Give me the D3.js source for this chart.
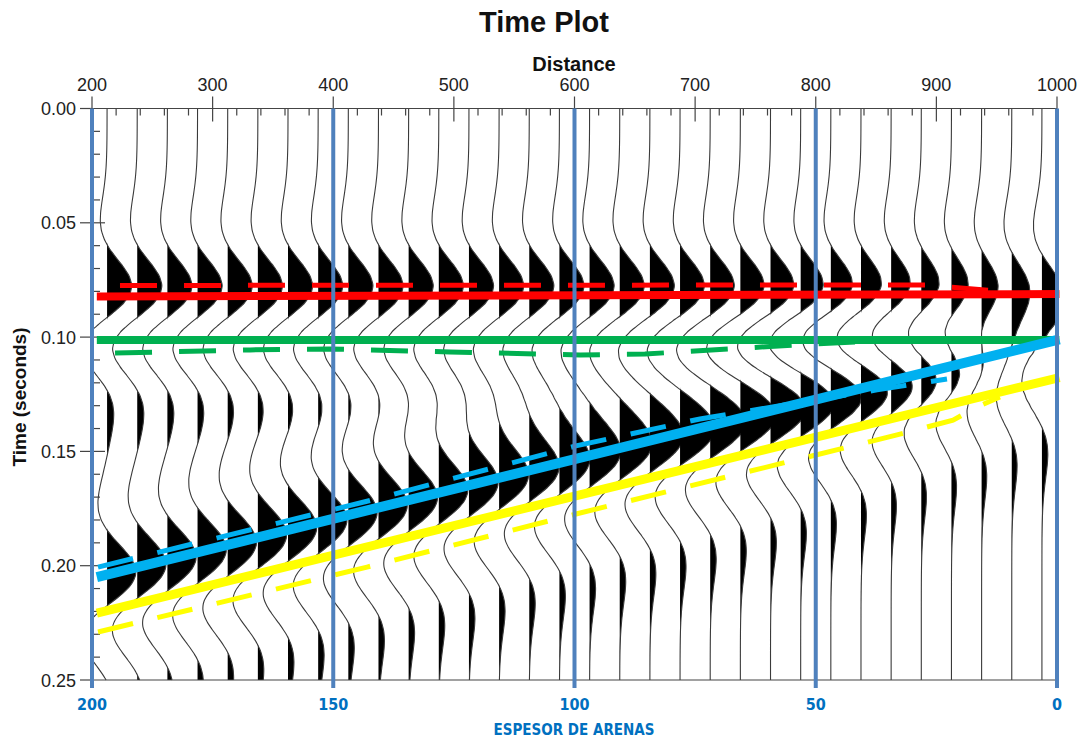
<!DOCTYPE html>
<html><head><meta charset="utf-8">
<script src="https://cdn.jsdelivr.net/npm/d3@7"></script>
<style>body{margin:0;background:#fff}svg{display:block}</style>
</head><body>
<svg id="chart" width="1083" height="738"></svg>
<script>
// ---------- data ----------
const traceDistance = [212.5,237.5,262.5,287.5,312.5,337.5,362.5,387.5,412.5,437.5,462.5,487.5,512.5,537.5,562.5,587.5,
  612.5,637.5,662.5,687.5,712.5,737.5,762.5,787.5,812.5,837.5,862.5,887.5,912.5,937.5,962.5,987.5];
// reflector times (s) read per trace
const topTimes = [0.0815,0.0815,0.0815,0.0815,0.0815,0.0815,0.0815,0.0815,0.0815,0.0815,0.0815,0.0815,0.0815,0.0815,0.0815,0.0815,
  0.0815,0.0815,0.0815,0.0815,0.0815,0.0815,0.0815,0.0815,0.0815,0.0815,0.0815,0.0815,0.0815,0.0815,0.0815,0.0815];
const midTimes = [0.1013,0.1013,0.1013,0.1013,0.1013,0.1013,0.1013,0.1013,0.1013,0.1013,0.1013,0.1013,0.1013,0.1013,0.1013,0.1013,
  0.1013,0.1013,0.1013,0.1013,0.1013,0.1013,0.1013,0.1013,0.1013,0.1013,0.1013,0.1013,0.1013,0.1013,0.1013,0.1013];
const baseTimes = [0.2039,0.2006,0.1974,0.1941,0.1909,0.1876,0.1844,0.1811,0.1778,0.1746,0.1713,0.1681,0.1648,0.1616,0.1583,0.1550,
  0.1518,0.1485,0.1453,0.1420,0.1388,0.1355,0.1322,0.1290,0.1257,0.1225,0.1192,0.1160,0.1127,0.1094,0.1062,0.1029];
const lowerTimes = [0.2296,0.2264,0.2231,0.2199,0.2167,0.2135,0.2102,0.2070,0.2038,0.2006,0.1973,0.1941,0.1909,0.1877,0.1844,0.1812,
  0.1780,0.1748,0.1715,0.1683,0.1651,0.1614,0.1576,0.1534,0.1492,0.1450,0.1407,0.1365,0.1323,0.1281,0.1238,0.1196];
const reflectivity = [1.0, -1.0, 1.15, -0.8];
// wavelet samples, lag -0.080 .. 0.080 s, step 0.004 s
const waveletStart = -0.080, waveletStep = 0.004;
const wavelet = [-0.0005,-0.0012,-0.0029,-0.0064,-0.0137,-0.0272,-0.0506,-0.0881,-0.1433,-0.2161,-0.3007,-0.3825,-0.4378,-0.4370,-0.3526,-0.1716,0.0953,0.4087,0.7069,0.9217,
  1.0000,0.9217,0.7069,0.4087,0.0953,-0.1716,-0.3526,-0.4370,-0.4378,-0.3825,-0.3007,-0.2161,-0.1433,-0.0881,-0.0506,-0.0272,-0.0137,-0.0064,-0.0029,-0.0012,-0.0005];

const distanceTicks = [200,300,400,500,600,700,800,900,1000];
const timeTicks = [0.00,0.05,0.10,0.15,0.20,0.25];
const thicknessTicks = [200,150,100,50,0];

// interpretation lines: [distance, time]
const redSolid = [[204,0.0822],[1002,0.0812]];
const greenSolid = [[204,0.1013],[1002,0.1013]];
const blueSolid = [[204,0.2050],[1002,0.1010]];
const yellowSolid = [[204,0.2207],[1002,0.1177]];
const redDashed = [[223.2,0.0774],[890.6,0.0772],[942.8,0.0795]];
const greenDashed = [[219.1,0.1070],[331.0,0.1056],[397.3,0.1052],[496.8,0.1065],[604.6,0.1078],[658.4,0.1074],[762.1,0.1041],[832.5,0.1021]];
const blueDashed = [[205.0,0.2006],[428.8,0.1717],[601.2,0.1476],[704.0,0.1358],[799.4,0.1275],[850.8,0.1231],[875.6,0.1210],[908.8,0.1183]];
const yellowDashed = [[205.0,0.2290],[428.0,0.2006],[601.2,0.1774],[867.4,0.1428],[913.8,0.1363],[933.7,0.1306],[952.7,0.1262]];

// ---------- drawing ----------
const svg = d3.select('#chart');
const x = d3.scaleLinear().domain([200,1000]).range([92,1057]);
const y = d3.scaleLinear().domain([0,0.25]).range([108.5,680]);
const xT = d3.scaleLinear().domain([200,0]).range([92,1057]);
const gain = 16.3; // amplitude -> distance units

svg.append('defs').append('clipPath').attr('id','plotclip').append('rect')
  .attr('x',x(200)).attr('y',y(0)-1).attr('width',x(1000)-x(200)).attr('height',y(0.25)-y(0)+2);

function w(tau){
  const p = (tau - waveletStart)/waveletStep;
  if (p <= 0 || p >= wavelet.length-1) return 0;
  const i = Math.floor(p), f = p - i;
  return wavelet[i]*(1-f) + wavelet[i+1]*f;
}
const times = d3.range(0, 0.2502, 0.001);

const gTr = svg.append('g').attr('clip-path','url(#plotclip)');
traceDistance.forEach((d,i)=>{
  const ev = [topTimes[i], midTimes[i], baseTimes[i], lowerTimes[i]];
  const pts = times.map(t=>({t, a: d3.sum(ev, (e,k)=>reflectivity[k]*w(t-e))}));
  const area = d3.area().curve(d3.curveBasis)
    .y(p=>y(p.t)).x0(x(d)).x1(p=>x(d + Math.max(0,p.a)*gain));
  const line = d3.line().curve(d3.curveBasis)
    .y(p=>y(p.t)).x(p=>x(d + p.a*gain));
  gTr.append('path').attr('d', area(pts)).attr('fill','#000');
  gTr.append('path').attr('d', line(pts)).attr('fill','none').attr('stroke','#3a3a3a').attr('stroke-width',1.1);
});

// axes
const ax = svg.append('g').attr('stroke','#444').attr('stroke-width',1.2);
ax.append('line').attr('x1',x(200)).attr('x2',x(1000)).attr('y1',y(0)).attr('y2',y(0));
ax.append('line').attr('x1',x(200)).attr('x2',x(1000)).attr('y1',y(0.25)).attr('y2',y(0.25));
ax.append('line').attr('x1',x(200)).attr('x2',x(200)).attr('y1',y(0)).attr('y2',y(0.25));
distanceTicks.forEach(v=>{
  ax.append('line').attr('x1',x(v)).attr('x2',x(v)).attr('y1',y(0)-12).attr('y2',y(0)+13);
});
d3.range(220,1000,20).filter(v=>v%100!==0).forEach(v=>{
  ax.append('line').attr('x1',x(v)).attr('x2',x(v)).attr('y1',y(0)).attr('y2',y(0)+7);
});
timeTicks.forEach(v=>{
  ax.append('line').attr('x1',x(200)-12).attr('x2',x(200)+(v>0&&v<0.25?13:0)).attr('y1',y(v)).attr('y2',y(v));
});
d3.range(1,25).filter(k=>k%5!==0).forEach(k=>{
  const v=k/100;
  ax.append('line').attr('x1',x(200)).attr('x2',x(200)+8).attr('y1',y(v)).attr('y2',y(v));
});

svg.append('g').selectAll('text').data(distanceTicks).join('text')
  .attr('x',d=>x(d)).attr('y',91).attr('text-anchor','middle')
  .attr('font-family','Liberation Sans, Arial, sans-serif').attr('font-size',18).attr('fill','#222')
  .text(d=>d);
svg.append('g').selectAll('text').data(timeTicks).join('text')
  .attr('x',76).attr('y',d=>y(d)+6.5).attr('text-anchor','end')
  .attr('font-family','Liberation Sans, Arial, sans-serif').attr('font-size',18).attr('fill','#222')
  .text(d=>d.toFixed(2));

// interpretation lines
const ln = d3.line().x(p=>x(p[0])).y(p=>y(p[1]));
function solid(data,color,wd){ svg.append('path').attr('d',ln(data)).attr('fill','none').attr('stroke',color).attr('stroke-width',wd); }
function dashed(data,color,dash){ svg.append('path').attr('d',ln(data)).attr('fill','none').attr('stroke',color).attr('stroke-width',5).attr('stroke-dasharray',dash); }
solid(redSolid,'#ff0000',8);
solid(greenSolid,'#00b050',8);
solid(yellowSolid,'#ffff00',9);
solid(blueSolid,'#00b0f0',10);
dashed(redDashed,'#ff0000','37,27');
dashed(greenDashed,'#00b050','37,27');
dashed(blueDashed,'#00b0f0','36,25');
dashed(yellowDashed,'#ffff00','36,25');

// thickness verticals
svg.append('g').selectAll('line').data(thicknessTicks).join('line')
  .attr('x1',d=>xT(d)).attr('x2',d=>xT(d)).attr('y1',y(0)).attr('y2',y(0.25)+8)
  .attr('stroke','#4f81bd').attr('stroke-width',4);
svg.append('g').selectAll('text').data(thicknessTicks).join('text')
  .attr('x',d=>xT(d)).attr('y',710).attr('text-anchor','middle')
  .attr('font-family','Liberation Sans Narrow, DejaVu Sans Condensed, Liberation Sans, sans-serif').attr('font-weight','bold')
  .attr('font-size',16).attr('fill','#0070c0').text(d=>d);
svg.append('text').attr('x',574).attr('y',735).attr('text-anchor','middle')
  .attr('font-family','Liberation Sans Narrow, DejaVu Sans Condensed, Liberation Sans, sans-serif').attr('font-weight','bold')
  .attr('font-size',15).attr('fill','#0070c0').text('ESPESOR DE ARENAS');

// titles
svg.append('text').attr('x',544).attr('y',32).attr('text-anchor','middle')
  .attr('font-family','Liberation Sans, Arial, sans-serif').attr('font-weight','bold').attr('font-size',29).attr('fill','#111').text('Time Plot');
svg.append('text').attr('x',574).attr('y',71).attr('text-anchor','middle')
  .attr('font-family','Liberation Sans, Arial, sans-serif').attr('font-weight','bold').attr('font-size',20).attr('fill','#111').text('Distance');
svg.append('text').attr('transform','translate(26,397) rotate(-90)').attr('text-anchor','middle')
  .attr('font-family','Liberation Sans, Arial, sans-serif').attr('font-weight','bold').attr('font-size',19).attr('fill','#111').text('Time (seconds)');
</script>
</body></html>
